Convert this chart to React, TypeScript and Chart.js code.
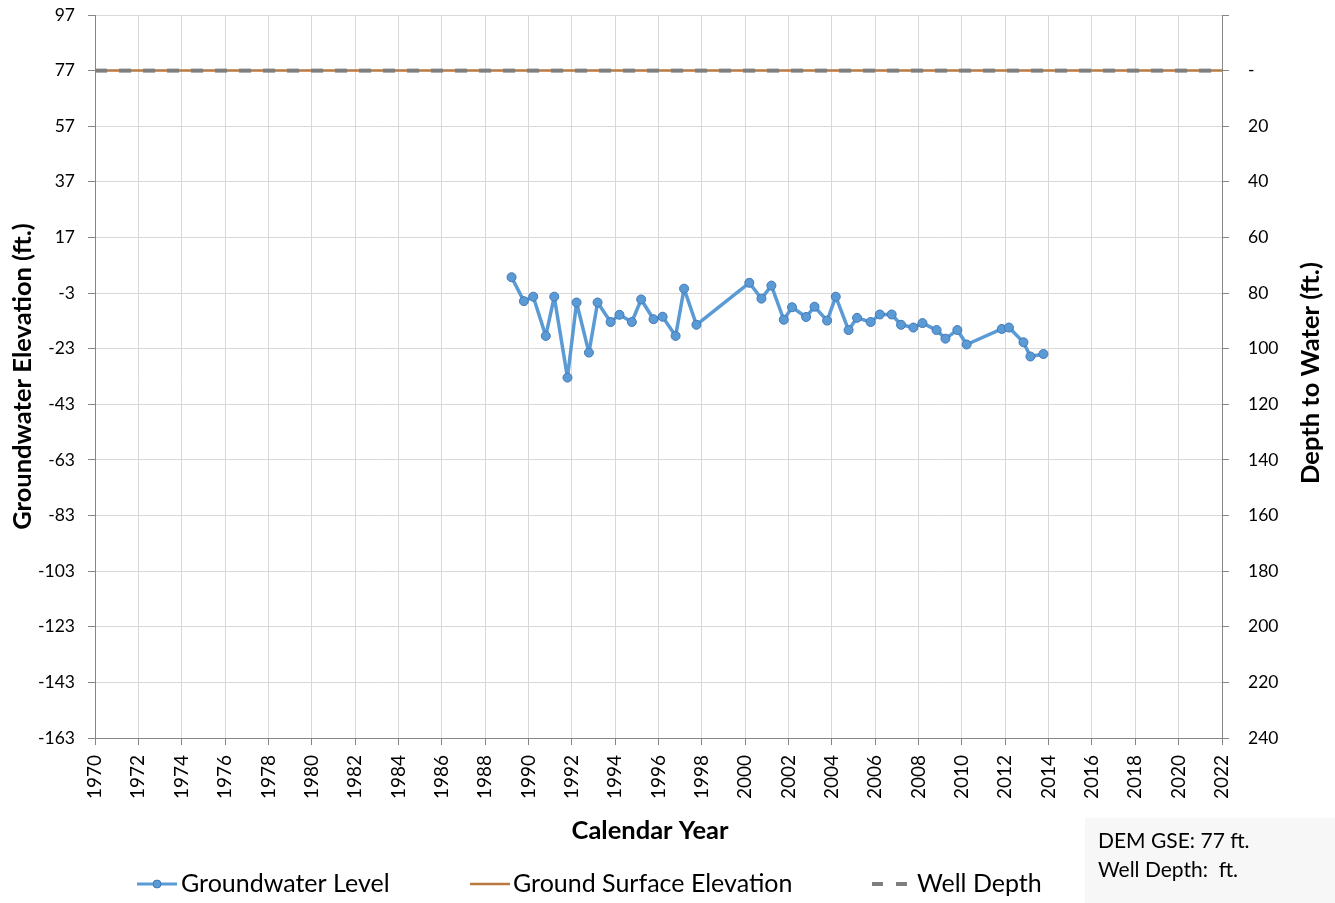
import React, { useEffect, useRef } from 'react';
import { Chart, registerables } from 'chart.js';

Chart.register(...registerables);

// ---- Data ----
const sampleYears = [
  1989.22, 1989.79, 1990.22, 1990.8, 1991.19, 1991.8, 1992.22, 1992.79, 1993.19, 1993.79,
  1994.2, 1994.77, 1995.2, 1995.77, 1996.19, 1996.79, 1997.18, 1997.75, 2000.19, 2000.75,
  2001.21, 2001.78, 2002.16, 2002.81, 2003.2, 2003.78, 2004.18, 2004.77, 2005.16, 2005.79,
  2006.21, 2006.76, 2007.19, 2007.76, 2008.18, 2008.83, 2009.24, 2009.79, 2010.22, 2011.84,
  2012.17, 2012.84, 2013.16, 2013.76,
];
const groundwaterLevels = [
  2.7, -5.9, -4.3, -18.4, -4.3, -33.4, -6.4, -24.4, -6.4, -13.4,
  -10.8, -13.4, -5.3, -12.4, -11.5, -18.4, -1.4, -14.4, 0.7, -5.0,
  -0.3, -12.6, -8.1, -11.6, -7.9, -12.9, -4.3, -16.3, -11.9, -13.4,
  -10.7, -10.7, -14.4, -15.4, -13.8, -16.3, -19.4, -16.3, -21.5, -15.9,
  -15.4, -20.7, -25.8, -24.9,
];
const lineYears = [1970, 2022];
const groundSurfaceElevation = [77, 77];
const wellDepthElevation = [77, 77];

const xTicks = [
  1970, 1972, 1974, 1976, 1978, 1980, 1982, 1984, 1986, 1988, 1990, 1992, 1994, 1996,
  1998, 2000, 2002, 2004, 2006, 2008, 2010, 2012, 2014, 2016, 2018, 2020, 2022,
];
const elevationTicks = [-163, -143, -123, -103, -83, -63, -43, -23, -3, 17, 37, 57, 77, 97];
const depthTicks = [-20, 0, 20, 40, 60, 80, 100, 120, 140, 160, 180, 200, 220, 240];

const seriesNames = ['Groundwater Level', 'Ground Surface Elevation', 'Well Depth'];
const xTitle = 'Calendar Year';
const leftTitle = 'Groundwater Elevation (ft.)';
const rightTitle = 'Depth to Water (ft.)';
const infoLines = ['DEM GSE: 77 ft.', 'Well Depth:  ft.'];

const FONT = 'Lato, "Open Sans", sans-serif';
const AXIS_GRAY = '#868686';
const GRID_GRAY = '#d9d9d9';
const TITLE_SIZE = 25.5;

const overlayPlugin = {
  id: 'overlay',
  afterDraw(chart: any) {
    const ctx: CanvasRenderingContext2D = chart.ctx;
    const ds = chart.data.datasets;
    ctx.save();

    // axis titles drawn where the reference puts them
    ctx.fillStyle = '#000';
    ctx.font = `bold ${TITLE_SIZE}px ${FONT}`;
    ctx.textAlign = 'center';
    ctx.textBaseline = 'middle';
    ctx.fillText(xTitle, 650, 831);
    ctx.save();
    ctx.translate(1311, 373);
    ctx.rotate(-Math.PI / 2);
    ctx.fillText(rightTitle, 0, 0);
    ctx.restore();

    // legend
    const ly = 884;
    ctx.font = `25px ${FONT}`;
    ctx.textAlign = 'left';
    ctx.textBaseline = 'middle';
    // item 1
    ctx.strokeStyle = ds[0].borderColor;
    ctx.lineWidth = 3;
    ctx.setLineDash([]);
    ctx.beginPath();
    ctx.moveTo(137, ly);
    ctx.lineTo(177, ly);
    ctx.stroke();
    ctx.beginPath();
    ctx.arc(157, ly, 4, 0, Math.PI * 2);
    ctx.fillStyle = ds[0].pointBackgroundColor;
    ctx.fill();
    ctx.lineWidth = 1;
    ctx.strokeStyle = ds[0].pointBorderColor;
    ctx.stroke();
    ctx.fillStyle = '#000';
    ctx.fillText(ds[0].label, 181, ly);
    // item 2
    ctx.strokeStyle = ds[1].borderColor;
    ctx.lineWidth = 2.5;
    ctx.beginPath();
    ctx.moveTo(470, ly);
    ctx.lineTo(510, ly);
    ctx.stroke();
    ctx.fillText(ds[1].label, 513, ly);
    // item 3
    ctx.strokeStyle = ds[2].borderColor;
    ctx.lineWidth = 4;
    ctx.setLineDash([11, 13]);
    ctx.beginPath();
    ctx.moveTo(872, ly);
    ctx.lineTo(910, ly);
    ctx.stroke();
    ctx.setLineDash([]);
    ctx.fillText(ds[2].label, 917, ly);

    // info box
    ctx.fillStyle = '#f7f7f7';
    ctx.fillRect(1085, 818, 250, 85);
    ctx.fillStyle = '#000';
    ctx.font = `21px ${FONT}`;
    ctx.fillText(infoLines[0], 1098, 841);
    ctx.fillText(infoLines[1], 1098, 870);

    ctx.restore();
  },
};

export default function App() {
  const canvasRef = useRef<HTMLCanvasElement | null>(null);

  useEffect(() => {
    if (!canvasRef.current) return;
    const chart = new Chart(canvasRef.current, {
      type: 'line',
      data: {
        datasets: [
          {
            label: seriesNames[0],
            data: sampleYears.map((x, i) => ({ x, y: groundwaterLevels[i] })),
            borderColor: '#5B9BD5',
            backgroundColor: '#5B9BD5',
            borderWidth: 3.5,
            borderJoinStyle: 'round',
            borderCapStyle: 'round',
            pointRadius: 4.5,
            pointBackgroundColor: '#5B9BD5',
            pointBorderColor: '#4278B8',
            pointBorderWidth: 1,
            tension: 0,
            yAxisID: 'y',
            order: 0,
          },
          {
            label: seriesNames[1],
            data: lineYears.map((x, i) => ({ x, y: groundSurfaceElevation[i] })),
            borderColor: '#B87A40',
            borderWidth: 2.5,
            pointRadius: 0,
            yAxisID: 'y',
            order: 2,
          },
          {
            label: seriesNames[2],
            data: lineYears.map((x, i) => ({ x, y: wellDepthElevation[i] })),
            borderColor: '#7F7F7F',
            borderWidth: 4,
            borderDash: [12, 12],
            pointRadius: 0,
            yAxisID: 'y',
            order: 1,
          },
        ],
      },
      options: {
        animation: false,
        responsive: false,
        devicePixelRatio: 1,
        events: [],
        layout: { padding: { top: 15, left: 0, right: 0, bottom: 0 } },
        plugins: {
          legend: { display: false },
          tooltip: { enabled: false },
        },
        scales: {
          x: {
            type: 'linear',
            min: 1970,
            max: 2022,
            afterBuildTicks: (s: any) => {
              s.ticks = xTicks.map((v) => ({ value: v }));
            },
            afterFit: (s: any) => {
              s.height = 165;
              s.paddingLeft = 0;
              s.paddingRight = 0;
            },
            ticks: {
              callback: (v: any) => String(v),
              minRotation: 90,
              maxRotation: 90,
              autoSkip: false,
              color: '#000',
              padding: 10,
              font: { family: FONT, size: 19 },
            },
            grid: { color: GRID_GRAY, tickColor: AXIS_GRAY, tickLength: 7, lineWidth: 1 },
            border: { color: AXIS_GRAY, width: 1 },
          },
          y: {
            type: 'linear',
            position: 'left',
            min: -163,
            max: 97,
            afterBuildTicks: (s: any) => {
              s.ticks = elevationTicks.map((v) => ({ value: v }));
            },
            afterFit: (s: any) => {
              s.width = 95;
              s.paddingTop = 0;
              s.paddingBottom = 0;
            },
            ticks: {
              callback: (v: any) => String(v),
              color: '#000',
              padding: 13,
              font: { family: FONT, size: 17.5 },
            },
            grid: { color: GRID_GRAY, tickColor: AXIS_GRAY, tickLength: 7 },
            border: { color: AXIS_GRAY, width: 1 },
            title: {
              display: true,
              text: leftTitle,
              color: '#000',
              font: { family: FONT, size: TITLE_SIZE, weight: 'bold' },
              padding: { top: 7, bottom: 0 },
            },
          },
          y1: {
            type: 'linear',
            position: 'right',
            min: -20,
            max: 240,
            reverse: true,
            afterBuildTicks: (s: any) => {
              s.ticks = depthTicks.map((v) => ({ value: v }));
            },
            afterFit: (s: any) => {
              s.width = 113;
              s.paddingTop = 0;
              s.paddingBottom = 0;
            },
            ticks: {
              callback: (v: any) => (v < 0 ? '' : v === 0 ? '-' : String(v)),
              color: '#000',
              padding: 19,
              font: { family: FONT, size: 17.5 },
            },
            grid: { drawOnChartArea: false, tickColor: AXIS_GRAY, tickLength: 7 },
            border: { color: AXIS_GRAY, width: 1 },
          },
        },
      } as any,
      plugins: [overlayPlugin],
    });
    return () => chart.destroy();
  }, []);

  return (
    <div style={{ position: 'absolute', left: 0, top: 0, width: 1335, height: 903, background: '#fff' }}>
      <canvas ref={canvasRef} width={1335} height={903} style={{ display: 'block' }} />
    </div>
  );
}
